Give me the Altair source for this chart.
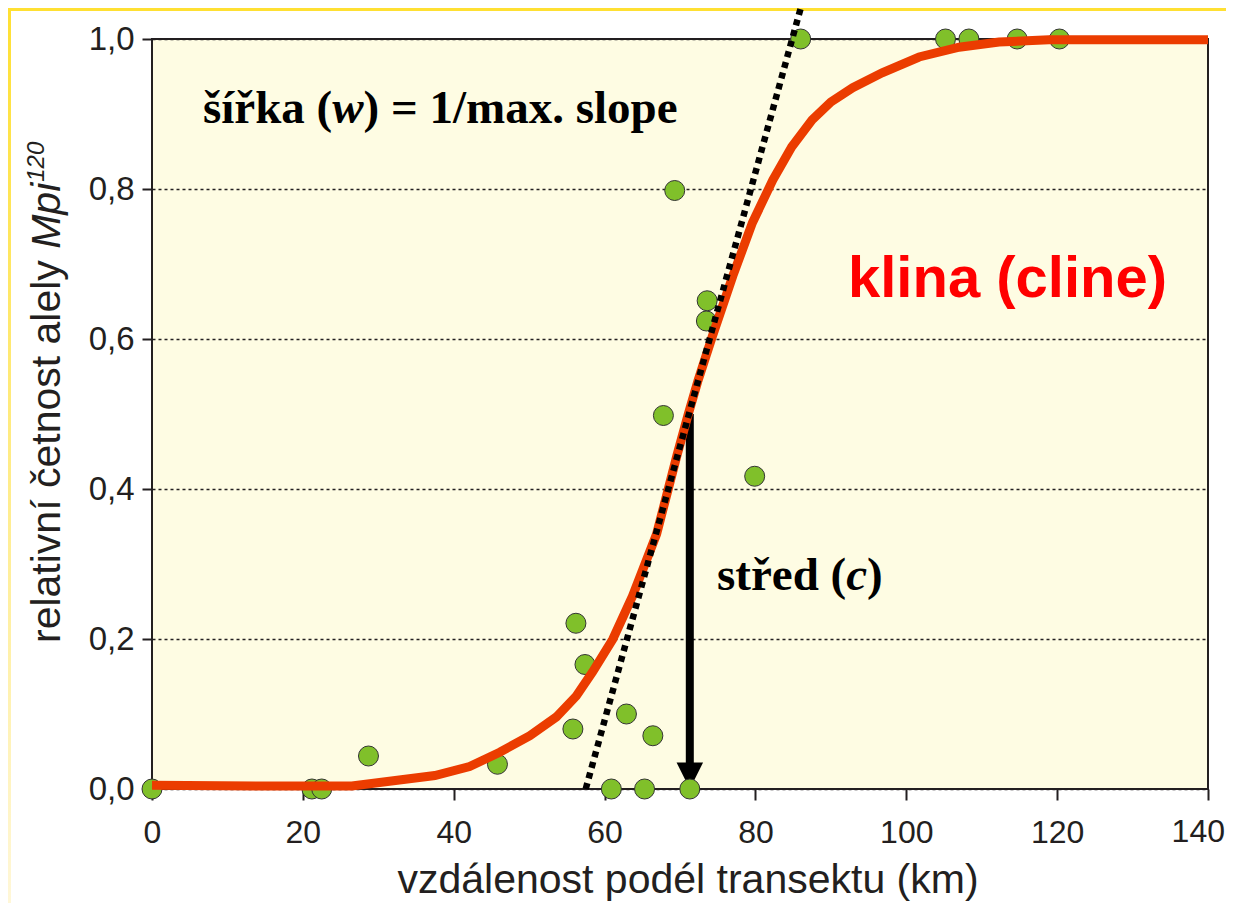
import altair as alt
import pandas as pd

# ---- data ----
pts_x = [0, 21.2, 22.5, 28.7, 45.8, 55.8, 56.2, 57.4, 60.9, 62.9, 65.3, 66.4, 67.8,
         69.3, 71.3, 73.5, 73.6, 79.9, 86.0, 105.2, 108.3, 114.7, 120.3]
pts_y = [0, 0, 0, 0.044, 0.033, 0.080, 0.221, 0.166, 0, 0.100, 0, 0.071, 0.498,
         0.798, 0, 0.624, 0.651, 0.417, 1, 1, 1, 1, 1]

curve_x = [0, 15, 26.5, 37.5, 42.1, 46.1, 50.1, 53.6, 56.25, 58.4, 61.1, 63.7, 66.9,
           69.6, 71.1, 72.4, 74.3, 77.0, 79.6, 82.3, 84.8, 87.5, 90.0, 92.9, 96.8,
           101.7, 107.0, 112.3, 118.9, 140]
curve_y = [0.005, 0.004, 0.004, 0.018, 0.030, 0.049, 0.071, 0.096, 0.124, 0.156, 0.200,
           0.257, 0.340, 0.445, 0.500, 0.545, 0.604, 0.684, 0.755, 0.812, 0.856, 0.892,
           0.916, 0.935, 0.955, 0.976, 0.989, 0.996, 0.999, 0.999]

tangent_x = [57.5, 86.05]
tangent_y = [0.0, 1.043]

center_x = [71.3]
center_top = [0.5]
center_bottom = [0.0]

x_ticks = [0, 20, 40, 60, 80, 100, 120, 140]
y_ticks = [0.0, 0.2, 0.4, 0.6, 0.8, 1.0]
last_x_label = "140"

W, H = 1056, 750
PAD = {"left": 144, "top": 31, "right": 18, "bottom": 114}
INK = "#231f20"

xs = alt.Scale(domain=[0, 140], nice=False, zero=False)
ys = alt.Scale(domain=[0, 1], nice=False, zero=False)
xaxis = alt.Axis(values=x_ticks, title=None, grid=False, domain=False, tickSize=11,
                 tickWidth=2, tickColor=INK, labelFont="Liberation Sans", labelFontSize=32,
                 labelColor=INK, labelPadding=17, labelFlush=False,
                 labelExpr="datum.value == 140 ? '' : datum.label")
yaxis = alt.Axis(values=y_ticks, title=None, grid=True, gridDash=[3, 3], gridColor=INK,
                 gridWidth=1.3, domain=False, tickSize=10, tickWidth=2, tickColor=INK,
                 labelFont="Liberation Sans", labelFontSize=33, labelColor=INK,
                 labelPadding=8, labelFlush=False,
                 labelExpr="replace(format(datum.value, '.1f'), '.', ',')")


def X(f):
    return alt.X(f, type="quantitative", scale=xs, axis=xaxis)


def Y(f):
    return alt.Y(f, type="quantitative", scale=ys, axis=yaxis)


pts = pd.DataFrame({"x": pts_x, "y": pts_y})
curve = pd.DataFrame({"x": curve_x, "y": curve_y})
tang = pd.DataFrame({"x": tangent_x, "y": tangent_y})
cen = pd.DataFrame({"x": center_x, "y": center_top, "y2": center_bottom})
one = pd.DataFrame({"a": [0]})

# decorative slide border (yellow)
top_band = alt.Chart(one).mark_rect(color="#FFE033").encode(
    x=alt.value(-PAD["left"]), x2=alt.value(W + PAD["right"]),
    y=alt.value(-PAD["top"]), y2=alt.value(-PAD["top"] + 3))
left_band = alt.Chart(one).mark_rect(
    color=alt.LinearGradient(gradient="linear",
                             stops=[alt.GradientStop(color="#FFE033", offset=0),
                                    alt.GradientStop(color="#FFF7D8", offset=1)],
                             x1=0, x2=0, y1=0, y2=1)).encode(
    x=alt.value(-PAD["left"]), x2=alt.value(-PAD["left"] + 3),
    y=alt.value(-PAD["top"]), y2=alt.value(H + PAD["bottom"]))

arrow_shaft = alt.Chart(cen).mark_rule(color="black", strokeWidth=8, y2Offset=-20).encode(
    x=X("x"), y=Y("y"), y2="y2")
arrow_head = alt.Chart(cen).mark_point(shape="M-1,-2L1,-2L0,0Z", size=700, filled=True,
                                       color="black", opacity=1).encode(
    x=X("x"), y=Y("y2"))

points = alt.Chart(pts).mark_circle(size=400, color="#80C02A", opacity=1,
                                    stroke="#333333", strokeWidth=1).encode(
    x=X("x"), y=Y("y"))

cline = alt.Chart(curve).mark_line(color="#EB3C00", strokeWidth=9).encode(
    x=X("x"), y=Y("y"), order="x:Q")

tangent = alt.Chart(tang).mark_line(color="black", strokeWidth=6.5, strokeDash=[6, 5],
                                    strokeCap="butt", clip=False).encode(
    x=X("x"), y=Y("y"))


def txt(t, x, y, **kw):
    return alt.Chart(pd.DataFrame({"t": [t]})).mark_text(**kw).encode(
        x=alt.value(x), y=alt.value(y), text="t:N")


FS = 47
SER = dict(font="Liberation Serif", fontSize=FS, fontWeight="bold", color="black",
           align="left", baseline="alphabetic")
w1 = 51
sirka1 = txt("šířka (", w1, 84, **SER)
sirka2 = txt("w", w1 + 2.75 * FS, 84, fontStyle="italic", **SER)
sirka3 = txt(") = 1/max. slope", w1 + 2.75 * FS + 0.667 * FS, 84, **SER)

s1 = 565
stred1 = txt("střed (", s1, 551, **SER)
stred2 = txt("c", s1 + 2.749 * FS, 551, fontStyle="italic", **SER)
stred3 = txt(")", s1 + 2.749 * FS + 0.444 * FS, 551, **SER)

klina = txt("klina (cline)", 696, 258, font="Liberation Sans", fontSize=58,
            fontWeight="bold", color="#FF0000", align="left", baseline="alphabetic")

xtitle = txt("vzdálenost podél transektu (km)", 536, 854, font="Liberation Sans",
             fontSize=41, color=INK, align="center", baseline="alphabetic")

# last x tick label, kept inside the page's edge
x_last = txt(last_x_label, W + PAD["right"] - 1, H + 11 + 17, font="Liberation Sans",
             fontSize=32, color=INK, align="right", baseline="top")

YT = dict(font="Liberation Sans", color=INK, align="left", baseline="alphabetic", angle=270)
yt1 = txt("relativní četnost alely ", -92, 604, fontSize=41, **YT)
yt2 = txt("Mpi", -92, 604 - 394.2, fontSize=41, fontStyle="italic", **YT)
yt3 = txt("120", -108, 604 - 394.2 - 66 - 1, fontSize=24, fontStyle="italic", **YT)

chart = alt.layer(
    top_band, left_band, arrow_shaft, arrow_head, points, cline, tangent,
    sirka1, sirka2, sirka3, stred1, stred2, stred3, klina, xtitle, x_last, yt1, yt2, yt3
).properties(
    width=W, height=H, padding=PAD, autosize="none", background="white"
).configure_view(stroke=INK, strokeWidth=2, fill="#FEFCE3")

chart.save("out.html", embed_options={"renderer": "svg", "actions": False})
